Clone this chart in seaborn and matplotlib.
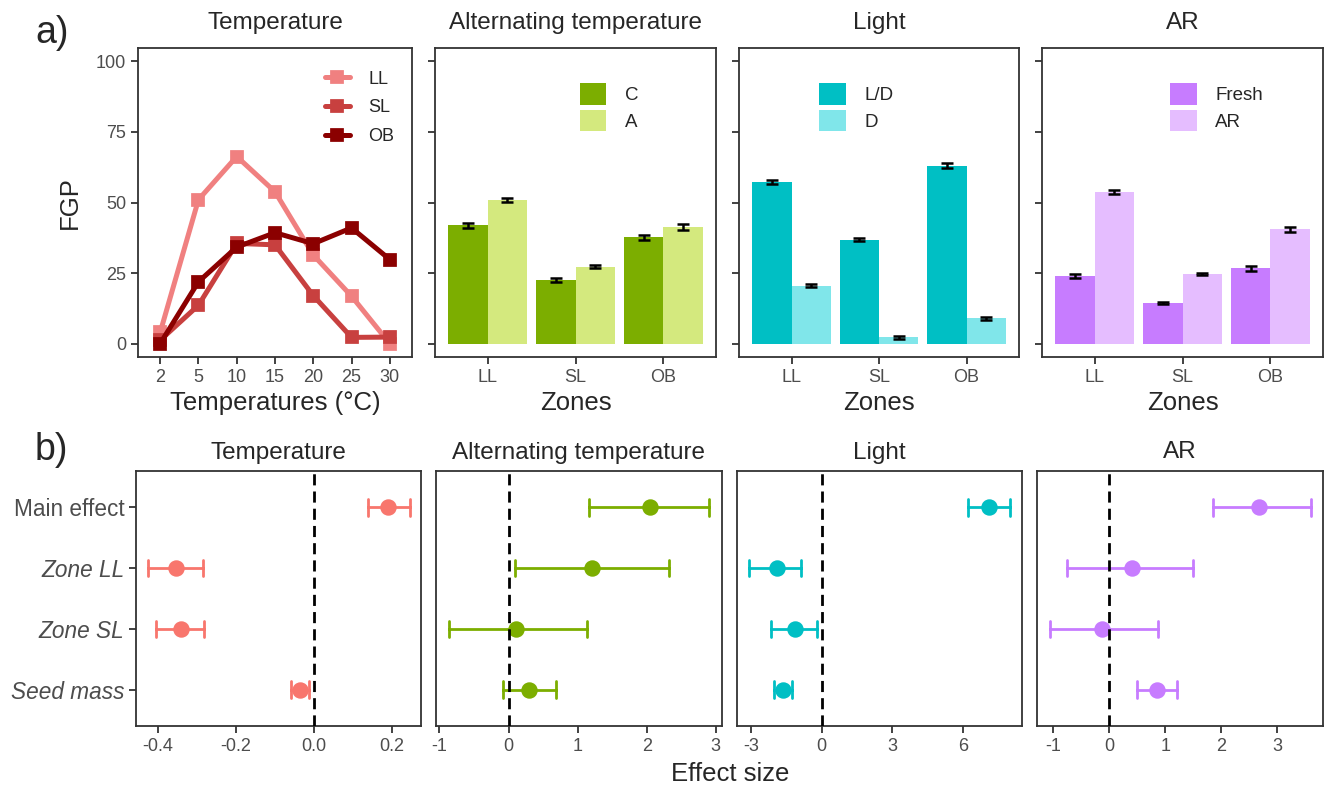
import numpy as np
import pandas as pd
import seaborn as sns
import matplotlib.pyplot as plt

# ---- data ----
temps = [2, 5, 10, 15, 20, 25, 30]
zones = ["LL", "SL", "OB"]
fgp_LL = [4.0, 51.0, 66.3, 53.8, 31.4, 16.8, 0.0]
fgp_SL = [1.2, 13.6, 35.5, 35.0, 17.0, 2.2, 2.3]
fgp_OB = [0.0, 21.9, 34.2, 39.3, 35.4, 41.0, 29.8]

alt_C = [42.0, 22.5, 37.6]
alt_A = [50.9, 27.2, 41.3]
alt_C_se = [0.9, 0.6, 1.0]
alt_A_se = [0.8, 0.5, 1.0]

light_LD = [57.4, 36.8, 63.0]
light_D = [20.5, 2.2, 8.9]
light_LD_se = [0.7, 0.5, 0.9]
light_D_se = [0.6, 0.4, 0.5]

ar_fresh = [23.9, 14.4, 26.7]
ar_ar = [53.6, 24.6, 40.5]
ar_fresh_se = [0.6, 0.4, 0.9]
ar_ar_se = [0.7, 0.4, 0.8]

terms = ["Main effect", "Zone LL", "Zone SL", "Seed mass"]
temp_est = [0.19, -0.353, -0.342, -0.036]
temp_lo = [0.137, -0.426, -0.405, -0.060]
temp_hi = [0.246, -0.285, -0.282, -0.013]
alt_est = [2.05, 1.21, 0.11, 0.30]
alt_lo = [1.17, 0.097, -0.857, -0.077]
alt_hi = [2.90, 2.32, 1.14, 0.68]
light_est = [7.09, -1.91, -1.13, -1.65]
light_lo = [6.21, -3.07, -2.14, -2.02]
light_hi = [7.98, -0.89, -0.19, -1.27]
arf_est = [2.68, 0.40, -0.12, 0.857]
arf_lo = [1.86, -0.755, -1.06, 0.50]
arf_hi = [3.60, 1.50, 0.875, 1.22]

sns.set_theme(style="white")
plt.rcParams["font.family"] = ["Liberation Sans", "DejaVu Sans"]

GREY_TXT = "#4D4D4D"
FRAME = "#333333"
W, H = 1325, 787
fig = plt.figure(figsize=(13.25, 7.87), dpi=100)


def px_axes(x0, x1, y0, y1):
    return fig.add_axes([x0 / W, 1 - y1 / H, (x1 - x0) / W, (y1 - y0) / H])


def style(ax):
    for s in ax.spines.values():
        s.set_color(FRAME)
        s.set_linewidth(1.3)
    ax.tick_params(axis="both", which="both", length=5, width=1.3, color=FRAME,
                   labelsize=13, labelcolor=GREY_TXT, left=True, bottom=True)


top_x = [(138, 412), (435, 716), (739, 1019), (1042, 1323)]
bot_x = [(136, 421), (436, 722), (737, 1022), (1037, 1323)]
top_axes = [px_axes(a, b, 48, 357) for a, b in top_x]
bot_axes = [px_axes(a, b, 471, 726) for a, b in bot_x]

# ---- a) Temperature lines ----
ax = top_axes[0]
line_df = pd.DataFrame({
    "temp": temps * 3,
    "fgp": fgp_LL + fgp_SL + fgp_OB,
    "zone": ["LL"] * 7 + ["SL"] * 7 + ["OB"] * 7,
})
sns.pointplot(data=line_df, x="temp", y="fgp", hue="zone", hue_order=zones,
              palette=["#F08080", "#C8403F", "#8B0000"], markers="s",
              markersize=7, linewidth=3.6, errorbar=None, ax=ax)
h, l = ax.get_legend_handles_labels()
ax.legend(h, l, frameon=False, loc="upper left", bbox_to_anchor=(0.655, 0.95),
          fontsize=13, handlelength=1.4, handletextpad=1.0, labelspacing=0.65,
          borderaxespad=0)
ax.set_xlim(-0.58, 6.58)
ax.set_ylim(-4.75, 104.75)
ax.set_yticks([0, 25, 50, 75, 100])
ax.set_xlabel("Temperatures (°C)", fontsize=18.5, labelpad=4)
ax.set_ylabel("FGP", fontsize=18.5, labelpad=10)
ax.set_title("Temperature", fontsize=17.5, pad=14)
style(ax)

# ---- a) bar panels ----
bar_specs = [
    ("Alternating temperature", ["C", "A"], [alt_C, alt_A], [alt_C_se, alt_A_se],
     ["#7CAE00", "#D4E97E"], 0.49),
    ("Light", ["L/D", "D"], [light_LD, light_D], [light_LD_se, light_D_se],
     ["#00BFC4", "#80E6EA"], 0.26),
    ("AR", ["Fresh", "AR"], [ar_fresh, ar_ar], [ar_fresh_se, ar_ar_se],
     ["#C77CFF", "#E5BDFF"], 0.43),
]
for ax, (title, trts, vals, ses, cols, lx) in zip(top_axes[1:], bar_specs):
    df = pd.DataFrame({
        "zone": zones * 2,
        "fgp": vals[0] + vals[1],
        "trt": [trts[0]] * 3 + [trts[1]] * 3,
    })
    sns.barplot(data=df, x="zone", y="fgp", hue="trt", order=zones, hue_order=trts,
                palette=cols, saturation=1, errorbar=None, width=0.9,
                linewidth=0, ax=ax)
    for cont, se in zip(ax.containers, ses):
        xs = [p.get_x() + p.get_width() / 2 for p in cont]
        ax.errorbar(xs, cont.datavalues, yerr=se, fmt="none", ecolor="black",
                    elinewidth=1.8, capsize=4.2, capthick=1.8, zorder=5)
    h, l = ax.get_legend_handles_labels()
    ax.legend(h, l, frameon=False, loc="upper left", bbox_to_anchor=(lx, 0.91),
              fontsize=13.5, handlelength=1.4, handleheight=1.4,
              handletextpad=1.0, labelspacing=0.25, borderaxespad=0)
    ax.set_xlim(-0.6, 2.6)
    ax.set_ylim(-4.75, 104.75)
    ax.set_yticks([0, 25, 50, 75, 100])
    ax.set_yticklabels([])
    ax.set_ylabel("")
    ax.set_xlabel("Zones", fontsize=18.5, labelpad=4)
    ax.set_title(title, fontsize=17.5, pad=14)
    style(ax)

# ---- b) effect sizes ----
forest_specs = [
    ("Temperature", temp_est, temp_lo, temp_hi, "#F8766D", (-0.456, 0.274),
     [-0.4, -0.2, 0.0, 0.2], ["-0.4", "-0.2", "0.0", "0.2"]),
    ("Alternating temperature", alt_est, alt_lo, alt_hi, "#7CAE00", (-1.05, 3.09),
     [-1, 0, 1, 2, 3], ["-1", "0", "1", "2", "3"]),
    ("Light", light_est, light_lo, light_hi, "#00BFC4", (-3.59, 8.49),
     [-3, 0, 3, 6], ["-3", "0", "3", "6"]),
    ("AR", arf_est, arf_lo, arf_hi, "#C77CFF", (-1.29, 3.82),
     [-1, 0, 1, 2, 3], ["-1", "0", "1", "2", "3"]),
]
for i, (ax, (title, est, lo, hi, col, xl, xt, xtl)) in enumerate(zip(bot_axes, forest_specs)):
    df = pd.DataFrame({
        "term": terms * 3,
        "value": est + lo + hi,
    })
    sns.pointplot(data=df, x="value", y="term", order=terms, estimator="median",
                  errorbar=lambda v: (v.min(), v.max()), color=col, markers="o",
                  markersize=9.8, linestyle="none", capsize=0.27,
                  err_kws={"linewidth": 2.0}, ax=ax)
    ax.axvline(0, color="black", linestyle=(0, (4, 2.2)), linewidth=2.0, zorder=10)
    ax.set_xlim(*xl)
    ax.set_ylim(3.6, -0.6)
    ax.set_xticks(xt)
    ax.set_xticklabels(xtl)
    ax.set_xlabel("")
    ax.set_ylabel("")
    ax.set_title(title, fontsize=17.5, pad=9)
    style(ax)
    if i == 0:
        ax.tick_params(axis="y", labelsize=16.3)
        for k, t in enumerate(ax.get_yticklabels()):
            if k > 0:
                t.set_fontstyle("italic")
    else:
        ax.tick_params(axis="y", left=False, labelleft=False)

fig.text(730 / W, 1 - 774 / H, "Effect size", fontsize=18.5, ha="center", va="center")
fig.text(35 / W, 1 - 43 / H, "a)", fontsize=27, ha="left", va="baseline")
fig.text(35 / W, 1 - 460 / H, "b)", fontsize=27, ha="left", va="baseline")

fig.savefig("out.png", dpi=100)
